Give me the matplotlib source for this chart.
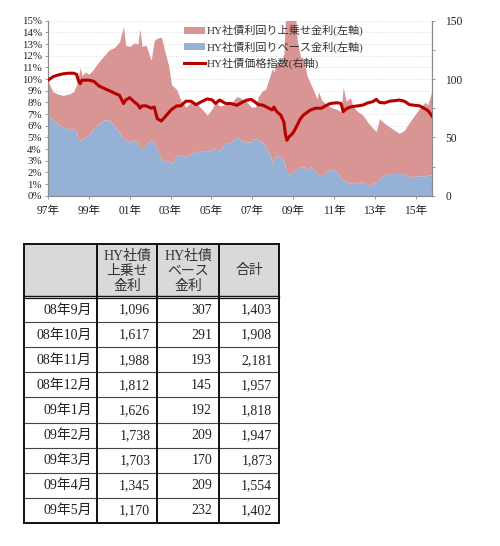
import matplotlib
matplotlib.use("Agg")
import matplotlib.pyplot as plt
from matplotlib.patches import Patch, Rectangle
from matplotlib.lines import Line2D

# ---------------- data ----------------
dates = [1997.00, 1997.25, 1997.50, 1997.75, 1998.00, 1998.25, 1998.40, 1998.50, 1998.58, 1998.66,
         1998.83, 1999.00, 1999.25, 1999.50, 1999.75, 2000.00, 2000.25, 2000.50, 2000.70, 2000.80,
         2001.00, 2001.25, 2001.40, 2001.50, 2001.60, 2001.80, 2002.05, 2002.20, 2002.35, 2002.55,
         2002.70, 2002.90, 2003.05, 2003.30, 2003.50, 2003.75, 2004.00, 2004.25, 2004.50, 2004.80,
         2005.05, 2005.20, 2005.40, 2005.70, 2005.95, 2006.25, 2006.50, 2006.75, 2006.95, 2007.16,
         2007.30, 2007.50, 2007.65, 2007.80, 2007.98, 2008.06, 2008.20, 2008.40, 2008.55, 2008.63,
         2008.70, 2008.80, 2008.90, 2009.00, 2009.10, 2009.20, 2009.36, 2009.50, 2009.68, 2009.85,
         2010.00, 2010.17, 2010.25, 2010.40, 2010.58, 2010.82, 2011.15, 2011.35, 2011.45, 2011.60,
         2011.80, 2011.95, 2012.17, 2012.42, 2012.65, 2012.90, 2013.07, 2013.23, 2013.48, 2013.72,
         2013.97, 2014.20, 2014.45, 2014.70, 2014.95, 2015.20, 2015.45, 2015.60, 2015.80]

total_yield = [9.8, 8.9, 8.7, 8.6, 8.7, 8.9, 9.5, 10.3, 11.0, 10.3,
               10.6, 10.4, 10.9, 11.5, 12.0, 12.5, 12.7, 13.2, 14.5, 12.9,
               12.8, 13.1, 13.0, 14.3, 12.8, 12.9, 11.6, 13.3, 13.5, 13.6,
               12.5, 11.2, 9.5, 9.1, 8.2, 7.6, 8.0, 7.9, 7.5, 6.9,
               7.5, 8.0, 7.7, 7.8, 7.9, 8.5, 8.3, 8.0, 7.6, 7.6,
               8.5, 9.0, 9.1, 9.9, 10.9, 10.6, 11.5, 11.2, 12.2, 15.5,
               19.1, 21.8, 19.6, 18.2, 16.0, 13.3, 11.9, 11.8, 10.3, 9.6,
               9.05, 8.3, 8.9, 8.2, 7.9, 7.6, 7.4, 7.2, 9.3, 8.1,
               8.4, 7.6, 7.2, 6.9, 6.3, 5.8, 5.5, 6.6, 6.2, 5.9,
               5.6, 5.35, 5.6, 6.3, 6.9, 7.5, 8.0, 7.8, 9.0]

base_yield = [6.9, 6.5, 6.1, 5.9, 5.75, 5.7, 5.5, 4.6, 4.7, 4.9,
              5.0, 5.2, 5.8, 6.2, 6.5, 6.5, 6.0, 5.4, 4.9, 4.8,
              4.6, 4.8, 4.5, 4.1, 4.0, 4.3, 4.8, 4.6, 4.0, 3.1,
              3.0, 3.0, 2.8, 3.4, 3.5, 3.3, 3.6, 3.8, 3.8, 3.8,
              4.05, 4.0, 3.9, 4.5, 4.6, 5.05, 4.7, 4.6, 4.6, 4.9,
              4.8, 4.6, 4.2, 3.8, 2.8, 3.2, 3.5, 3.2, 3.0, 2.3,
              2.2, 1.8, 1.9, 2.05, 2.2, 2.3, 2.45, 2.5, 2.25, 2.5,
              2.3, 1.9, 1.85, 1.8, 1.95, 2.3, 2.05, 1.5, 1.35, 1.2,
              1.1, 1.05, 1.15, 1.2, 0.9, 1.05, 1.15, 1.5, 1.8, 1.9,
              1.9, 1.9, 1.85, 1.6, 1.7, 1.7, 1.7, 1.75, 1.8]

price_index = [99, 102, 103.5, 104.5, 105, 105, 104, 98, 96, 99,
               99, 99, 98, 94, 92, 90, 88, 86, 79, 82,
               84, 80, 78, 75, 77, 77, 75, 76, 66, 64,
               67, 71, 74, 77, 77, 81, 81, 78, 80.5, 83,
               82, 79, 82, 79, 79, 77.5, 80, 82, 82.5, 80,
               78, 77.7, 76.5, 75, 73.5, 76, 72, 69, 63, 52,
               47.5, 50.5, 52, 54, 57, 60.6, 66, 69, 71.4, 73.4,
               74.5, 75, 75, 75, 77, 79, 79.7, 79, 72, 74.5,
               76, 76.5, 77, 77.7, 79.5, 80.6, 82.6, 80, 79.5, 81,
               81.5, 82, 81, 78, 77.5, 77, 74.5, 73, 68.3]

year_ticks = [1997, 1999, 2001, 2003, 2005, 2007, 2009, 2011, 2013, 2015]
year_labels = ["97年", "99年", "01年", "03年", "05年", "07年", "09年", "11年", "13年", "15年"]
left_ticks = list(range(0, 16))
right_ticks = [0, 50, 100, 150]

legend_labels = ["HY社債利回り上乗せ金利(左軸)", "HY社債利回りベース金利(左軸)", "HY社債価格指数(右軸)"]

table_header = ["", "HY社債\n上乗せ\n金利", "HY社債\nベース\n金利", "合計"]
table_months = ["08年9月", "08年10月", "08年11月", "08年12月", "09年1月", "09年2月", "09年3月", "09年4月", "09年5月"]
table_spread = [1096, 1617, 1988, 1812, 1626, 1738, 1703, 1345, 1170]
table_base = [307, 291, 193, 145, 192, 209, 170, 209, 232]
table_total = [1403, 1908, 2181, 1957, 1818, 1947, 1873, 1554, 1402]

# ---------------- style ----------------
FAM = ["Liberation Serif", "Noto Sans CJK JP", "DejaVu Sans"]
plt.rcParams["font.family"] = FAM
PINK = "#d99594"
BLUE = "#95b1d6"
RED = "#b80000"
GRAY = "#8c8c8c"
TXT = "#222222"

W, H = 500, 546
fig = plt.figure(figsize=(W / 100, H / 100), dpi=100)

# chart axes (pixel box: x 48..432, y 20.7..195.7)
ax = fig.add_axes([48 / W, 1 - 195.7 / H, 384 / W, 175 / H])
ax.fill_between(dates, 0, base_yield, color=BLUE, lw=0, zorder=2)
ax.fill_between(dates, base_yield, total_yield, color=PINK, lw=0, zorder=2)
ax.set_xlim(1997.0, 2015.8)
ax.set_ylim(0, 15)
ax.set_yticks(left_ticks)
ax.set_yticklabels([f"{v}%" for v in left_ticks])
ax.set_xticks(year_ticks)
ax.set_xticklabels(year_labels)
ax.grid(axis="y", linestyle=(0, (1, 2)), color="#d4d4d4", lw=0.6, zorder=1)
ax.spines["top"].set_visible(False)
for s in ["left", "bottom", "right"]:
    ax.spines[s].set_color(GRAY)
    ax.spines[s].set_linewidth(0.8)
ax.tick_params(axis="y", labelsize=7.8, length=2.5, width=0.6, color=GRAY, pad=2, labelcolor=TXT)
ax.tick_params(axis="x", labelsize=8.3, length=2.5, width=0.6, color=GRAY, pad=4, labelcolor=TXT)

ax2 = ax.twinx()
ax2.plot(dates, price_index, color=RED, lw=2.2, zorder=5, solid_joinstyle="round")
ax2.set_ylim(0, 150)
ax2.set_yticks(right_ticks)
ax2.set_yticks(list(range(0, 151, 25)), minor=True)
ax2.tick_params(axis="y", which="both", labelsize=8.3, length=2.5, width=0.6, color=GRAY, pad=7, labelcolor=TXT)
ax2.tick_params(axis="y", which="minor", labelleft=False, labelright=False)
ax2.spines["top"].set_visible(False)
for s in ["left", "bottom", "right"]:
    ax2.spines[s].set_color(GRAY)
    ax2.spines[s].set_linewidth(0.8)

handles = [Patch(facecolor=PINK, edgecolor="none"),
           Patch(facecolor=BLUE, edgecolor="none"),
           Line2D([0], [0], color=RED, lw=2.2)]
leg = fig.legend(handles, legend_labels, loc="upper left",
                 bbox_to_anchor=(184 / W, 1 - 25 / H), frameon=False,
                 fontsize=8, handlelength=1.9, handleheight=0.6, handletextpad=0.15,
                 labelspacing=0.45, borderpad=0, borderaxespad=0)
for t in leg.get_texts():
    t.set_color("#333333")

# ---------------- table ----------------
tax = fig.add_axes([0, 0, 1, 1])
tax.set_xlim(0, W)
tax.set_ylim(H, 0)
tax.axis("off")

col_x = [24, 96.7, 157.3, 219, 279.3]
top_y = 244.3
head_bot = 295.5
row_h = 25.1
n = len(table_months)
bot_y = head_bot + 1.5 + row_h * n

tax.add_patch(Rectangle((col_x[0], top_y), col_x[-1] - col_x[0], head_bot - top_y,
                        facecolor="#d9d9d9", edgecolor="none", zorder=1))
for i in range(1, n):
    y = head_bot + 1.5 + row_h * i
    tax.plot([col_x[0], col_x[-1]], [y, y], color="#444444", lw=0.8, zorder=3)
tax.plot([col_x[0], col_x[-1]], [head_bot, head_bot], color="#111111", lw=1.0, zorder=6)
tax.plot([col_x[0], col_x[-1]], [head_bot + 2.2, head_bot + 2.2], color="#111111", lw=0.9, zorder=6)
tax.add_patch(Rectangle((col_x[0], head_bot + 0.5), col_x[-1] - col_x[0], 1.4,
                        facecolor="white", edgecolor="none", zorder=5.5))
for x in col_x:
    tax.plot([x, x], [top_y, bot_y], color="#111111", lw=1.4, zorder=7)
tax.plot([col_x[0], col_x[-1]], [top_y, top_y], color="#111111", lw=1.4, zorder=7)
tax.plot([col_x[0], col_x[-1]], [bot_y, bot_y], color="#111111", lw=1.4, zorder=7)

for j in range(1, 4):
    cx = (col_x[j] + col_x[j + 1]) / 2
    if "\n" in table_header[j]:
        cy = 271.5
    else:
        cy = 270.5
    tax.text(cx, cy, table_header[j], ha="center", va="center",
             fontsize=10, color="#333333", linespacing=1.2, zorder=5)

def fmt(v):
    return f"{v:,}"

for i in range(n):
    cy = head_bot + 1.5 + row_h * (i + 0.5) + 0.5
    tax.text(col_x[1] - 5, cy, table_months[i], ha="right", va="center", fontsize=10, color=TXT)
    tax.text(col_x[2] - 7, cy, fmt(table_spread[i]), ha="right", va="center", fontsize=10, color=TXT)
    tax.text(col_x[3] - 7, cy, fmt(table_base[i]), ha="right", va="center", fontsize=10, color=TXT)
    tax.text(col_x[4] - 7, cy, fmt(table_total[i]), ha="right", va="center", fontsize=10, color=TXT)

fig.savefig("out.png", dpi=100)
